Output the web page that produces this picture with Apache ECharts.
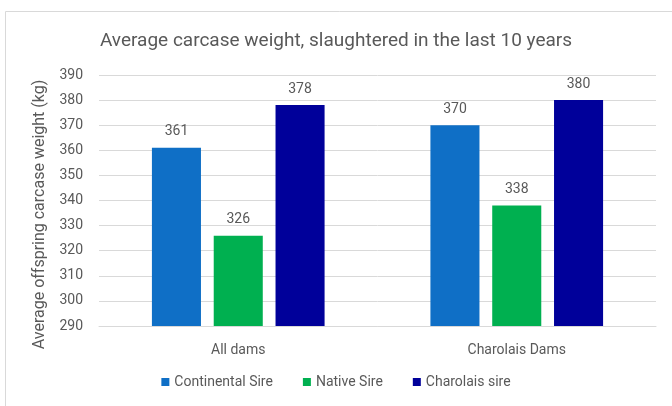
<!DOCTYPE html>
<html><head><meta charset="utf-8">
<script src="https://cdn.jsdelivr.net/npm/echarts@6/dist/echarts.min.js"></script>
<style>html,body{margin:0;padding:0;background:#fff}#c{width:672px;height:406px}</style>
</head><body><div id="c"></div>
<script>
const categories = ['All dams', 'Charolais Dams'];
const seriesNames = ['Continental Sire', 'Native Sire', 'Charolais sire'];
const continentalSire = [361, 370];
const nativeSire = [326, 338];
const charolaisSire = [378, 380];
const colors = ['#0F6FC6', '#00B050', '#00009A'];

const chart = echarts.init(document.getElementById('c'), null, {renderer: 'canvas'});
const font = 'Roboto, "Liberation Sans", sans-serif';
const lbl = {show: true, position: 'top', distance: 9, color: '#595959', fontSize: 14, fontFamily: font};
const seriesData = [continentalSire, nativeSire, charolaisSire];
chart.setOption({
  animation: false,
  color: colors,
  graphic: [{type: 'rect', shape: {x: 5.5, y: 11.5, width: 700, height: 420}, style: {fill: 'none', stroke: '#D9D9D9', lineWidth: 1}, z: -1}],
  title: {text: 'Average carcase weight, slaughtered in the last 10 years', left: 'center', top: 27,
    textStyle: {color: '#595959', fontSize: 19, fontWeight: 'normal', fontFamily: font}},
  legend: {bottom: 12, left: 'center', itemWidth: 8, itemHeight: 8, itemGap: 30, icon: 'rect',
    textStyle: {color: '#595959', fontSize: 14, fontFamily: font}, data: seriesNames},
  grid: {left: 99, right: 16, top: 75, bottom: 80},
  xAxis: {type: 'category', data: categories,
    axisLine: {show: true, lineStyle: {color: '#D9D9D9'}}, axisTick: {show: false},
    axisLabel: {color: '#595959', fontSize: 14, fontFamily: font, margin: 17}},
  yAxis: {type: 'value', min: 290, max: 390, interval: 10,
    name: 'Average offspring carcase weight (kg)', nameLocation: 'middle', nameGap: 50,
    nameTextStyle: {color: '#595959', fontSize: 16, fontFamily: font, padding: [0, 28, 0, 0]},
    axisLine: {show: false}, axisTick: {show: false},
    axisLabel: {color: '#595959', fontSize: 14, fontFamily: font, margin: 16},
    splitLine: {lineStyle: {color: '#D9D9D9'}}},
  series: seriesNames.map((n, i) => ({
    name: n, type: 'bar', data: seriesData[i], barGap: '26%', barCategoryGap: '38%', label: lbl
  }))
});
</script></body></html>
